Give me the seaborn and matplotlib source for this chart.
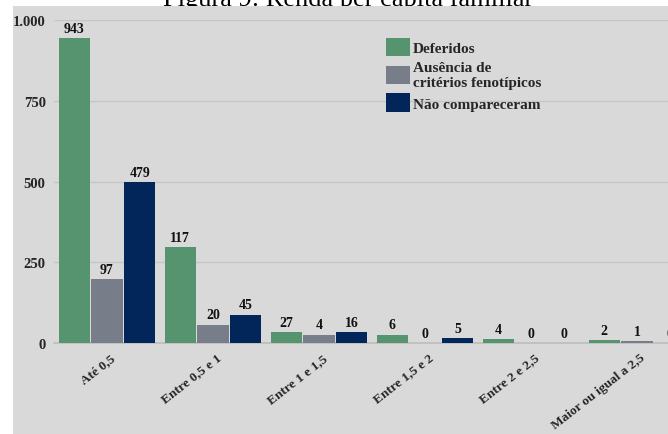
import matplotlib
matplotlib.use("Agg")
import matplotlib.pyplot as plt
import matplotlib.transforms as mtransforms
from matplotlib.patches import Rectangle, Patch
import seaborn as sns
import pandas as pd

# ---- data ----
categories = ["Até 0,5", "Entre 0,5 e 1", "Entre 1 e 1,5", "Entre 1,5 e 2",
              "Entre 2 e 2,5", "Maior ou igual a 2,5"]
series_names = ["Deferidos", "Ausência de\ncritérios fenotípicos", "Não compareceram"]
# bar heights as drawn in the picture
deferidos_heights = [943, 297, 33, 25, 12, 9]
ausencia_heights = [198, 57, 25, 0, 0, 5]
nao_heights = [498, 88, 33, 14, 0, 0]
# numbers printed above bars
deferidos_labels = [943, 117, 27, 6, 4, 2]
ausencia_labels = [97, 20, 4, 0, 0, 1]
nao_labels = [479, 45, 16, 5, 0, 0]
yticks = [0, 250, 500, 750, 1000]
ytick_labels = ["0", "250", "500", "750", "1.000"]
title = "Figura 9: Renda per capita familiar"

colors = ["#56936f", "#777e89", "#03265a"]

heights = [deferidos_heights, ausencia_heights, nao_heights]
labels = [deferidos_labels, ausencia_labels, nao_labels]
rows = []
for name, hs in zip(series_names, heights):
    for c, h in zip(categories, hs):
        rows.append({"cat": c, "serie": name, "valor": h})
df = pd.DataFrame(rows)

sns.set_theme(style="white")
serif = ["Liberation Serif", "DejaVu Serif"]
plt.rcParams["font.family"] = serif

W, H = 668, 435
fig = plt.figure(figsize=(W / 100, H / 100), dpi=100)
fig.patch.set_facecolor("white")

# gray panel
panel = Rectangle((13 / W, 0), 1, (H - 7) / H, transform=fig.transFigure,
                  facecolor="#d9d9d9", edgecolor="none", zorder=-1)
fig.patches.append(panel)
fig.text(348 / W, 1 - 6 / H, title, ha="center", va="baseline", fontsize=19,
         family=serif, color="black", zorder=-2)

ax_left, ax_right = 54, 690
ax_bottom, ax_top = 344, 21
ax = fig.add_axes([ax_left / W, (H - ax_bottom) / H, (ax_right - ax_left) / W,
                   (ax_bottom - ax_top) / H])
ax.set_facecolor("none")

sns.barplot(data=df, x="cat", y="valor", hue="serie", order=categories,
            hue_order=series_names, palette=colors, width=0.925, gap=0.05,
            saturation=1, ax=ax, legend=False, edgecolor="none", zorder=3)

for cont, lab in zip(ax.containers, labels):
    ax.bar_label(cont, labels=[str(v) for v in lab], padding=2.5, fontsize=10,
                 fontweight="bold", family=serif, color="#111111")

ax.set_xlim(-0.5, 5.5)
ax.set_ylim(0, 1000)
ax.set_yticks(yticks)
ax.set_yticklabels(ytick_labels, fontsize=10.5, fontweight="bold", family=serif)
ax.yaxis.grid(True, color="#c6c6c6", linewidth=1)
ax.set_axisbelow(True)
for s in ["top", "right", "left"]:
    ax.spines[s].set_visible(False)
ax.spines["bottom"].set_color("#bdbdbd")
ax.spines["bottom"].set_linewidth(1.2)
ax.tick_params(axis="y", length=0, pad=6)
ax.tick_params(axis="x", length=0, pad=8)
ax.set_xlabel("")
ax.set_ylabel("")

ax.set_xticks(range(len(categories)))
ax.set_xticklabels(categories, rotation=38, ha="right", va="center",
                   rotation_mode="anchor", fontsize=9.6, fontweight="bold",
                   family=serif)
off = mtransforms.ScaledTranslation(5 / 72, -1.5 / 72, fig.dpi_scale_trans)
for t in ax.get_xticklabels():
    t.set_transform(t.get_transform() + off)

handles = [Patch(facecolor=c, edgecolor="none") for c in colors]
leg = ax.legend(handles, series_names, loc="upper left",
                bbox_to_anchor=((380 - ax_left) / (ax_right - ax_left), 1 - (33 - ax_top) / (ax_bottom - ax_top)),
                frameon=False, handlelength=1.57, handleheight=1.45,
                handletextpad=0.2, labelspacing=0.3, borderaxespad=0,
                prop={"family": serif, "weight": "bold", "size": 11})

fig.savefig("out.png", dpi=100)
